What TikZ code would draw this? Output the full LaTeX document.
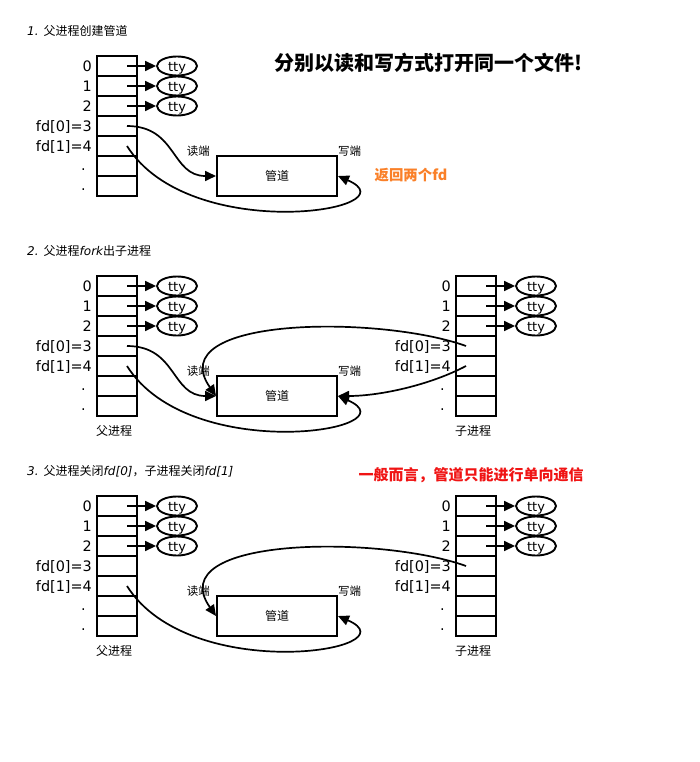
\documentclass[tikz,border=0pt]{standalone}
\usepackage{fontspec}
\setmainfont{DejaVu Sans}
\newfontfamily\cjk{Noto Sans CJK SC}
\usetikzlibrary{arrows.meta,positioning,shapes.geometric}
\definecolor{lineColor}{RGB}{0,0,0}
\definecolor{noteOrange}{RGB}{250,128,40}
\definecolor{noteRed}{RGB}{240,20,20}

\begin{document}
\begin{tikzpicture}[
  x=1pt, y=-1pt,
  cell/.style={draw=lineColor, line width=2pt, minimum width=40pt, minimum height=20pt, inner sep=0pt},
  fdlabel/.style={font=\fontsize{14.4}{16}\selectfont, anchor=east, inner sep=0pt, text height=10.5pt, text depth=0pt},
  tty/.style={ellipse, draw=lineColor, line width=1.9pt, minimum width=40pt, minimum height=19pt, inner sep=0pt, text height=10.5pt, text depth=0pt, font=\fontsize{13}{14}\selectfont},
  pipe/.style={draw=lineColor, line width=2pt, minimum width=120pt, minimum height=40pt, font=\cjk\fontsize{12}{14}\selectfont},
  endlabel/.style={font=\cjk\fontsize{11.5}{13}\selectfont, inner sep=0pt},
  heading/.style={anchor=west, inner sep=0pt, font=\fontsize{12}{14}\selectfont},
  procname/.style={font=\cjk\fontsize{12}{14}\selectfont, inner sep=0pt},
  ttyarrow/.style={-{Triangle[length=11pt,width=10pt]}, line width=1.6pt, draw=lineColor},
  flow/.style={-{Triangle[length=11pt,width=10pt]}, line width=1.7pt, draw=lineColor}
]

% background
\fill[white] (0,0) rectangle (699,762);

% headings
\node[heading] (head1) at (27,31) {{\itshape 1.} {\cjk 父进程创建管道}};
\node[heading] (head2) at (27,251) {{\itshape 2.} {\cjk 父进程}{\itshape fork}{\cjk 出子进程}};
\node[heading] (head3) at (27,471) {{\itshape 3.} {\cjk 父进程关闭}{\itshape fd[0]}{\cjk ，子进程关闭}{\itshape fd[1]}};

% fd tables
\foreach \t/\cx/\dy in {p1/117/0, p2/117/220, p3/117/440, c2/476/220, c3/476/440} {
  \foreach \i in {0,...,6}
    \node[cell] (\t-\i) at (\cx, 66+20*\i+\dy) {};
  \foreach \i/\lab in {0/0, 1/1, 2/2, 3/{fd[0]=3}, 4/{fd[1]=4}}
    \node[fdlabel] at ([xshift=-4pt]\t-\i.west) {\lab};
  \foreach \i in {5,6}
    \node[fdlabel] at ([xshift=-10pt,yshift=1pt]\t-\i.west) {.};
  \foreach \i in {0,1,2} {
    \node[tty] (\t-tty\i) at (\cx+60, 66+20*\i+\dy) {tty};
    \draw[ttyarrow] ([xshift=10pt]\t-\i.center) -- (\t-tty\i.west);
  }
}

% pipes
\node[pipe] (pipe1) at (277,176) {管道};
\node[pipe] (pipe2) at (277,396) {管道};
\node[pipe] (pipe3) at (277,616) {管道};
\foreach \k in {1,2,3} {
  \node[endlabel, anchor=east] (read\k) at ([xshift=-6pt,yshift=4pt]pipe\k.north west) {读端};
  \node[endlabel, anchor=west] (write\k) at ([yshift=4pt]pipe\k.north east) {写端};
}

\node[procname] (p2name) at (114,431) {父进程};
\node[procname] (c2name) at (473,431) {子进程};
\node[procname] (p3name) at (114,651) {父进程};
\node[procname] (c3name) at (473,651) {子进程};

% panel 1
\draw[flow] ([xshift=10pt]p1-3.center) .. controls +(50,0) and +(-45,0) .. (pipe1.west);
\draw[flow] ([xshift=10pt]p1-4.center) .. controls +(63,100) and +(78,34) .. (pipe1.east);

% panel 2
\draw[flow] ([xshift=10pt]p2-3.center) .. controls +(50,0) and +(-45,0) .. (pipe2.west);
\draw[flow] ([xshift=10pt]p2-4.center) .. controls +(63,100) and +(78,34) .. (pipe2.east);
\draw[flow] ([xshift=-10pt]c2-3.center) .. controls +(-86,-31) and +(-56,-80) .. (pipe2.west);
\draw[flow] ([xshift=-10pt]c2-4.center) .. controls +(-36,19) and +(42,0) .. (pipe2.east);

% panel 3
\draw[flow] ([xshift=10pt]p3-4.center) .. controls +(63,100) and +(78,34) .. (pipe3.east);
\draw[flow] ([xshift=-10pt]c3-3.center) .. controls +(-86,-31) and +(-56,-80) .. (pipe3.west);

% notes
\node[font=\cjk\bfseries\fontsize{20}{24}\selectfont] (slogan) at (428,63) {分别以读和写方式打开同一个文件!};
\node[font=\cjk\bfseries\fontsize{14.4}{16}\selectfont, text=noteOrange] (retnote) at (411,175) {返回两个fd};
\node[font=\cjk\bfseries\fontsize{15}{18}\selectfont, text=noteRed] (dirnote) at (471,475) {一般而言，管道只能进行单向通信};

\end{tikzpicture}
\end{document}
